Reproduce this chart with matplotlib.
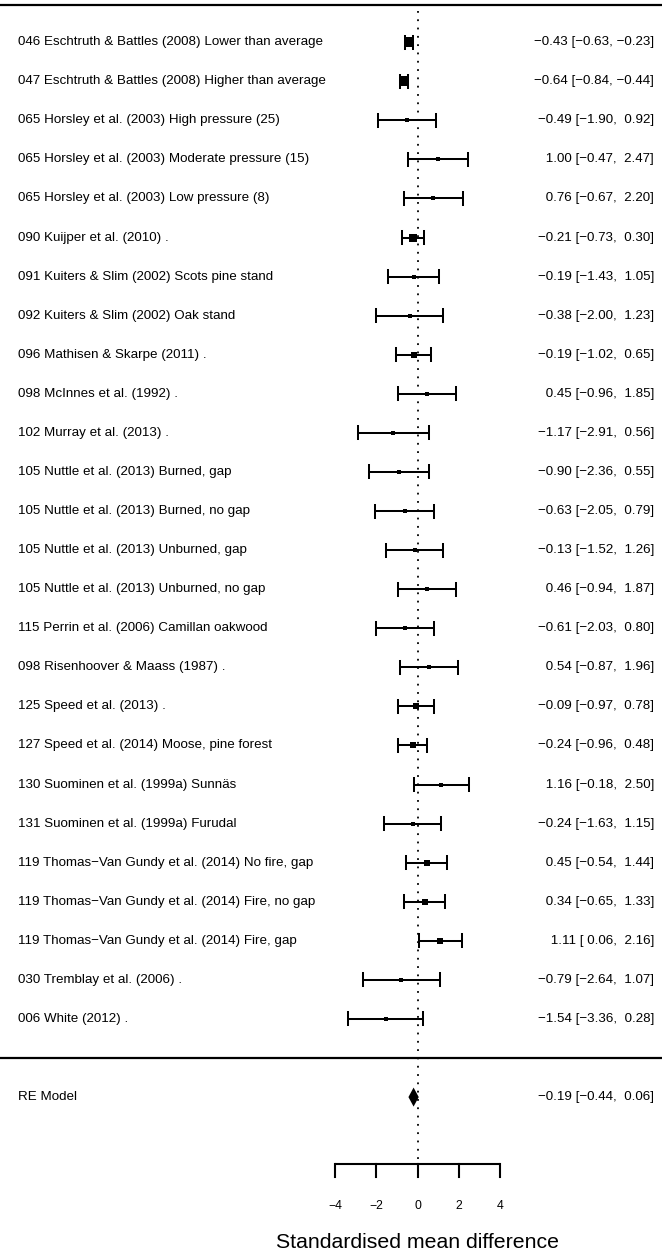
"""Forest plot of standardised mean differences (random-effects model)."""

import matplotlib
matplotlib.use("Agg")
import matplotlib.pyplot as plt
import numpy as np

plt.rcParams["font.family"] = ["Liberation Sans", "DejaVu Sans"]

MINUS = "\u2212"

studies = [
    "046 Eschtruth & Battles (2008) Lower than average",
    "047 Eschtruth & Battles (2008) Higher than average",
    "065 Horsley et al. (2003) High pressure (25)",
    "065 Horsley et al. (2003) Moderate pressure (15)",
    "065 Horsley et al. (2003) Low pressure (8)",
    "090 Kuijper et al. (2010) .",
    "091 Kuiters & Slim (2002) Scots pine stand",
    "092 Kuiters & Slim (2002) Oak stand",
    "096 Mathisen & Skarpe (2011) .",
    "098 McInnes et al. (1992) .",
    "102 Murray et al. (2013) .",
    "105 Nuttle et al. (2013) Burned, gap",
    "105 Nuttle et al. (2013) Burned, no gap",
    "105 Nuttle et al. (2013) Unburned, gap",
    "105 Nuttle et al. (2013) Unburned, no gap",
    "115 Perrin et al. (2006) Camillan oakwood",
    "098 Risenhoover & Maass (1987) .",
    "125 Speed et al. (2013) .",
    "127 Speed et al. (2014) Moose, pine forest",
    "130 Suominen et al. (1999a) Sunnäs",
    "131 Suominen et al. (1999a) Furudal",
    "119 Thomas\u2212Van Gundy et al. (2014) No fire, gap",
    "119 Thomas\u2212Van Gundy et al. (2014) Fire, no gap",
    "119 Thomas\u2212Van Gundy et al. (2014) Fire, gap",
    "030 Tremblay et al. (2006) .",
    "006 White (2012) .",
]
estimate = [-0.43, -0.64, -0.49, 1.00, 0.76, -0.21, -0.19, -0.38, -0.19, 0.45,
            -1.17, -0.90, -0.63, -0.13, 0.46, -0.61, 0.54, -0.09, -0.24, 1.16,
            -0.24, 0.45, 0.34, 1.11, -0.79, -1.54]
ci_lower = [-0.63, -0.84, -1.90, -0.47, -0.67, -0.73, -1.43, -2.00, -1.02, -0.96,
            -2.91, -2.36, -2.05, -1.52, -0.94, -2.03, -0.87, -0.97, -0.96, -0.18,
            -1.63, -0.54, -0.65, 0.06, -2.64, -3.36]
ci_upper = [-0.23, -0.44, 0.92, 2.47, 2.20, 0.30, 1.05, 1.23, 0.65, 1.85,
            0.56, 0.55, 0.79, 1.26, 1.87, 0.80, 1.96, 0.78, 0.48, 2.50,
            1.15, 1.44, 1.33, 2.16, 1.07, 0.28]

re_label = "RE Model"
re_estimate = -0.19
re_ci = (-0.44, 0.06)
tau2 = 0.10

x_ticks = [-4, -2, 0, 2, 4]
x_label = "Standardised mean difference"

# layout, in pixels of the 662x1252 output
W_PX, H_PX = 662, 1252
ZERO_PX = 417.5
PX_PER_UNIT = 20.6
ROW_PX = 39.07
HLINE_PX = 1058


def fmt(v: float) -> str:
    return f"{v:5.2f}".replace("-", MINUS)


def annotation(est: float, lb: float, ub: float) -> str:
    return f"{fmt(est)} [{fmt(lb)}, {fmt(ub)}]"


def square_sizes(lb, ub) -> np.ndarray:
    """Marker size (px) from random-effects weights implied by the CIs."""
    se = (np.asarray(ub) - np.asarray(lb)) / (2 * 1.96)
    w = 1.0 / (se ** 2 + tau2)
    norm = (w - w.min()) / (w.max() - w.min())
    return 3.8 + 6.4 * norm


def main() -> None:
    fig = plt.figure(figsize=(W_PX / 100, H_PX / 100), dpi=100)
    ax = fig.add_axes([0, 0, 1, 1])
    ax.set_xlim(-ZERO_PX / PX_PER_UNIT, (W_PX - ZERO_PX) / PX_PER_UNIT)
    ax.set_ylim(-(H_PX - HLINE_PX) / ROW_PX, HLINE_PX / ROW_PX)
    ax.axis("off")

    xmin, xmax = ax.get_xlim()
    x_left = xmin + 18 / PX_PER_UNIT
    x_right = xmax - 8 / PX_PER_UNIT

    k = len(studies)
    rows = np.arange(k, 0, -1)
    sizes = square_sizes(ci_lower, ci_upper)

    axis_y = -2.713
    tick_len = 13 / ROW_PX
    cap = 6.5 / ROW_PX
    bar_lw = 1.45

    # reference line and horizontal rules
    ax.plot([0, 0], [k + 0.8, axis_y], color="black", lw=1.3,
            linestyle=(0, (1, 3.6)), zorder=1)
    ax.axhline(k + 0.95, color="black", lw=1.6)
    ax.axhline(0, color="black", lw=1.6)

    for row, name, est, lb, ub, sz in zip(rows, studies, estimate,
                                          ci_lower, ci_upper, sizes):
        ax.plot([lb, ub], [row, row], color="black", lw=bar_lw, zorder=2,
                solid_capstyle="butt")
        ax.plot([lb, lb], [row - cap, row + cap], color="black", lw=bar_lw)
        ax.plot([ub, ub], [row - cap, row + cap], color="black", lw=bar_lw)
        ax.plot(est, row, marker="s", color="black", markersize=sz * 0.72,
                markeredgewidth=0, zorder=3)
        ax.text(x_left, row, name, ha="left", va="center", fontsize=9.6)
        ax.text(x_right, row, annotation(est, lb, ub), ha="right",
                va="center", fontsize=9.6)

    # summary diamond
    half_h = 9.5 / ROW_PX
    ax.fill([re_ci[0], re_estimate, re_ci[1], re_estimate],
            [-1, -1 + half_h, -1, -1 - half_h], color="black", lw=0, zorder=3)
    ax.text(x_left, -1, re_label, ha="left", va="center", fontsize=9.6)
    ax.text(x_right, -1, annotation(re_estimate, *re_ci), ha="right",
            va="center", fontsize=9.6)

    # x axis
    ax.plot([x_ticks[0], x_ticks[-1]], [axis_y, axis_y], color="black",
            lw=1.5, solid_capstyle="butt")
    for t in x_ticks:
        ax.plot([t, t], [axis_y, axis_y - tick_len], color="black", lw=1.5)
        ax.text(t, axis_y - 29 / ROW_PX - tick_len, f"{t}".replace("-", MINUS),
                ha="center", va="center", fontsize=8.8)
    ax.text(0, -(1242 - HLINE_PX) / ROW_PX, x_label, ha="center",
            va="center", fontsize=15.3)

    fig.savefig("out.png", dpi=100)
    plt.close(fig)


if __name__ == "__main__":
    main()
